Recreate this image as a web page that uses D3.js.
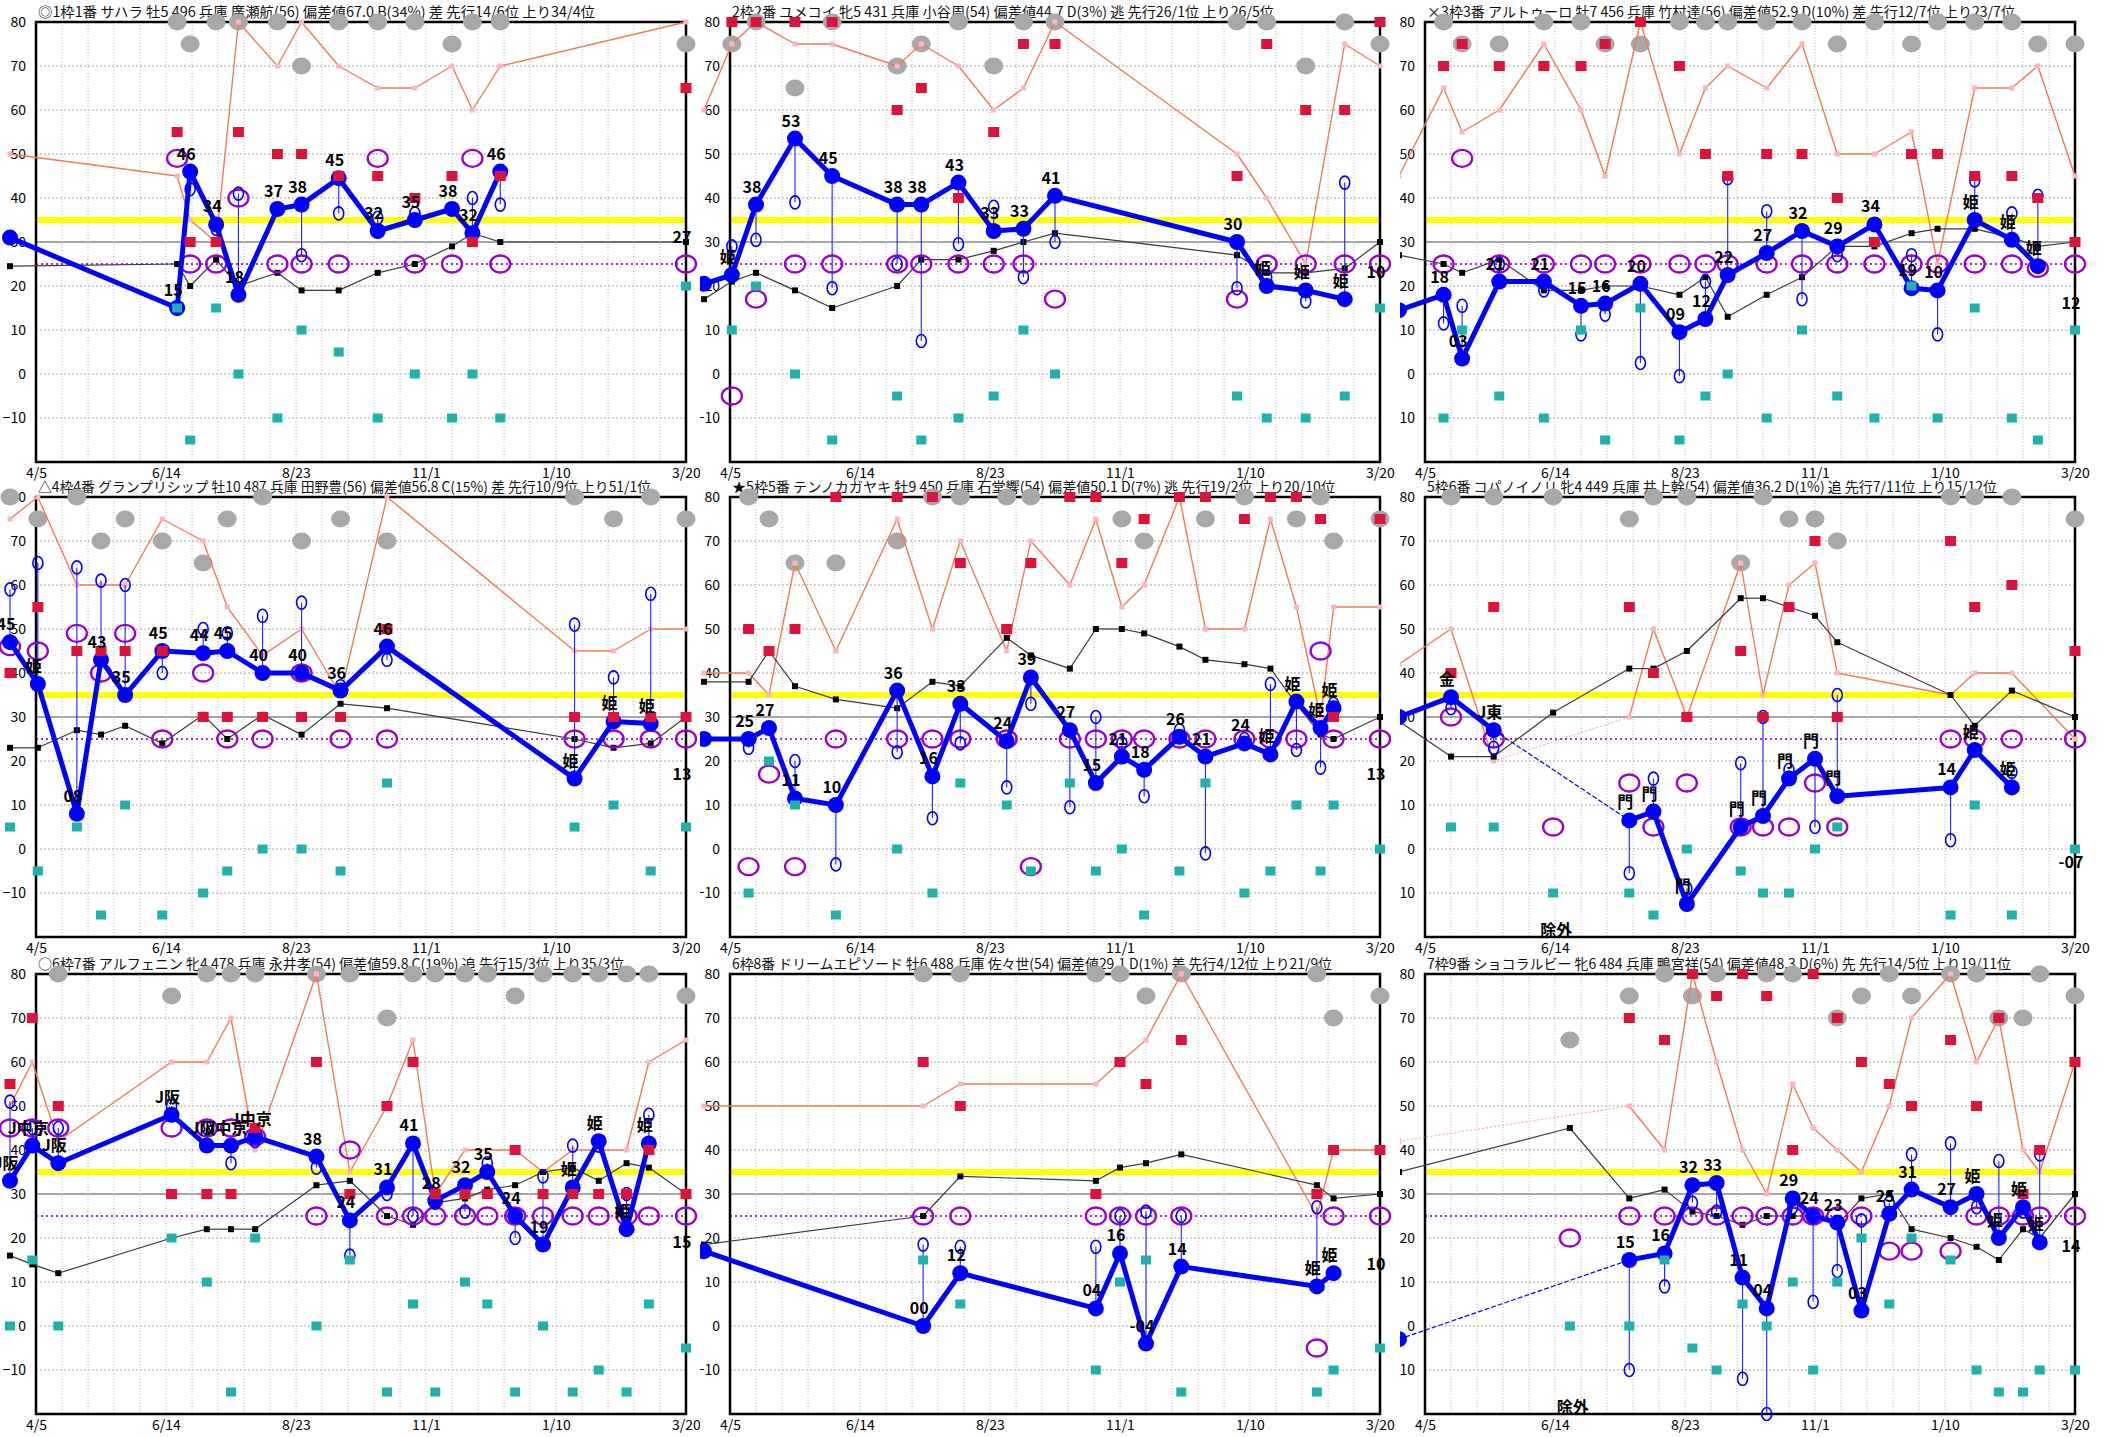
<!DOCTYPE html>
<html>
<head>
<meta charset="utf-8">
<script src="https://cdn.jsdelivr.net/npm/d3@7"></script>
<style>
  body { margin: 0; background: #fff; }
  svg { display: block; }
  text { font-family: "Noto Sans CJK JP", "Noto Sans", sans-serif; }
</style>
</head>
<body>
<svg id="chart" width="2109" height="1437"></svg>
<script>
// x = days counted from 4/5, y = index value
const dateTicks = [0, 70, 140, 210, 280, 350];
const dateLabels = ["4/5", "6/14", "8/23", "11/1", "1/10", "3/20"];
const yTicks = [80, 70, 60, 50, 40, 30, 20, 10, 0, -10];

const titles = [
  "◎1枠1番 サハラ 牡5 496 兵庫 廣瀬航(56) 偏差値67.0 B(34%) 差 先行14/6位 上り34/4位",
  "2枠2番 ユメコイ 牝5 431 兵庫 小谷周(54) 偏差値44.7 D(3%) 逃 先行26/1位 上り26/5位",
  "×3枠3番 アルトゥーロ 牡7 456 兵庫 竹村達(56) 偏差値52.9 D(10%) 差 先行12/7位 上り23/7位",
  "△4枠4番 グランプリシップ 牡10 487 兵庫 田野豊(56) 偏差値56.8 C(15%) 差 先行10/9位 上り51/1位",
  "★5枠5番 テンノカガヤキ 牡9 450 兵庫 石堂響(54) 偏差値50.1 D(7%) 逃 先行19/2位 上り20/10位",
  "5枠6番 コパノイノリ 牝4 449 兵庫 井上幹(54) 偏差値36.2 D(1%) 追 先行7/11位 上り15/12位",
  "○6枠7番 アルフェニン 牝4 478 兵庫 永井孝(54) 偏差値59.8 C(19%) 追 先行15/3位 上り35/3位",
  "6枠8番 ドリームエピソード 牡6 488 兵庫 佐々世(54) 偏差値29.1 D(1%) 差 先行4/12位 上り21/9位",
  "7枠9番 ショコラルビー 牝6 484 兵庫 鴨宮祥(54) 偏差値48.3 D(6%) 先 先行14/5位 上り19/11位"
];

const raceDays = [
  [-14, 76, 83, 97, 109, 130, 143, 163, 184, 204, 224, 235, 250, 350],
  [-14, 1, 14, 35, 55, 90, 103, 123, 142, 158, 175, 273, 289, 310, 331, 350],
  [-14, 10, 20, 40, 64, 84, 97, 116, 137, 151, 163, 184, 203, 222, 242, 262, 276, 296, 316, 330, 350],
  [-14, 1, 22, 35, 48, 68, 90, 103, 122, 143, 164, 189, 290, 311, 331, 350],
  [-14, 10, 21, 35, 57, 90, 109, 124, 149, 162, 183, 197, 211, 223, 242, 256, 277, 291, 305, 318, 325, 350],
  [-14, 14, 37, 69, 110, 123, 141, 170, 182, 196, 210, 222, 283, 296, 316, 350],
  [-14, -2, 12, 73, 92, 105, 118, 151, 169, 189, 203, 215, 231, 243, 258, 273, 289, 303, 318, 330, 350],
  [-14, 104, 124, 197, 210, 224, 243, 316, 325, 350],
  [-14, 78, 110, 129, 144, 157, 171, 184, 198, 209, 222, 235, 250, 262, 283, 297, 309, 322, 331, 350]
];

const grayVals = [
  [null, 80, 75, 80, 80, 80, 70, 80, 80, 80, 75, 80, 80, 75],
  [null, 75, 80, 65, 80, 70, 75, 80, 70, 80, 80, 80, 80, 70, 80, 75],
  [null, 80, 75, 75, 80, 80, 75, 75, 80, 80, 80, 80, 80, 75, 80, 75, 80, 80, 80, 75, 75],
  [80, 75, 80, 70, 75, 70, 65, 75, 80, 70, 75, 70, 80, 75, 80, 75],
  [null, 80, 75, 65, 65, 70, 80, 80, 80, 80, null, null, 75, 70, null, 75, 80, null, 75, 80, 70, 75],
  [null, 80, 80, 80, 75, 80, 80, 65, 80, 75, 75, 70, 80, 80, 80, 75],
  [null, null, 80, 75, 80, 80, 80, 80, 80, 70, 80, 80, 80, 80, 75, 80, 80, 80, 80, 80, 75],
  [null, 80, 80, 80, 80, 75, 80, 80, 70, 75],
  [null, 65, 75, 80, 75, 80, null, 80, 80, null, 70, 75, 80, 75, 80, 80, 70, 70, 80, 75]
];

const redVals = [
  [null, 55, 30, 30, 55, 50, 50, 45, 45, 40, 45, 30, 45, 65],
  [null, 80, 80, 80, 80, 60, 65, 40, 55, 75, 75, 45, 75, 60, 60, 80],
  [null, 70, 75, 70, 70, 70, 75, 80, 70, 50, 45, 50, 50, 40, 30, 50, 50, 45, 45, 40, 30],
  [40, 55, 45, 45, 45, 45, 30, 30, 30, 30, 30, 50, 30, 30, 30, 30],
  [null, 50, 45, 50, 80, 80, 80, 65, 50, 65, 80, 80, 65, 75, 80, 80, 75, 80, 80, 75, 30, 75],
  [null, 40, 55, null, 55, 40, 30, 45, 30, 55, 70, 30, 70, 55, 60, 45],
  [55, 70, 50, 30, 30, 30, 45, 60, 30, 50, 60, 30, 30, 30, 40, 30, 30, 30, 30, 40, 30],
  [null, 60, 50, 30, 60, 55, 65, 30, 40, 40],
  [null, null, 70, 65, 80, 75, 80, 75, 40, 80, 70, 60, 55, 50, 65, 50, 70, 30, 40, 60]
];

const salmonVals = [
  [50, 45, 35, 30, 80, 70, 80, 70, 65, 65, 70, 60, 70, 80],
  [60, 75, 80, 75, 75, 70, 75, 70, 60, 65, 80, 50, 40, 25, 75, 70],
  [45, 65, 55, 60, 75, 60, 45, 80, 50, 65, 70, 65, 75, 50, 50, 55, 25, 65, 65, 70, 45],
  [75, 80, 60, 60, 60, 75, 70, 55, 44, 50, 35, 80, 45, 45, 50, 50],
  [40, 40, 35, 65, 45, 75, 50, 70, 45, 70, 60, 75, 55, 60, 80, 50, 50, 75, 55, 30, 55, 55],
  [42, 50, 20, null, 30, 50, 30, 65, 35, 60, 65, 40, 35, 40, 40, 25],
  [50, 60, 42, 60, 60, 70, 40, 80, 35, 50, 65, 30, 40, 40, 40, 35, 40, 40, 40, 60, 65],
  [50, 50, 55, 55, 60, 65, 80, 25, 40, 40],
  [42, null, 50, 40, 80, 60, 40, 30, 55, 45, 40, 35, 50, 70, 80, 60, 70, 40, 35, 60]
];

const blackVals = [
  [24.5, 25, 20, 26, 20, 23, 19, 19, 23, 25, 29, 32, 30, 30],
  [17, 21, 23, 19, 15, 20, 26, 26, 28, 30, 32, 27, 23, 23, 24, 30],
  [27, 25, 23, 26, 19, 19, 20, 20, 18, 22, 13, 18, 22, 29, 29, 32, 33, 33, 31, 29, 30],
  [23, 23, 27, 26, 28, 24, 30.5, 25, 30.5, 26, 33, 32, 25, 23, 24, 30],
  [38, 38, 45, 37, 34, 32, 38, 37, 48, 44, 41, 50, 50, 49, 46, 43, 42, 41, 33, 26, 25, 30],
  [29, 21, 21, 31, 41, 41, 45, 57, 57, 55, 53, 47, 35, 28, 36, 30],
  [16, 14, 12, 20, 22, 22, 22, 32, 33, 25, 23, 28, 29, 31, 32, 35, 36, 33, 37, 36, 30],
  [18.5, 25, 34, 33, 36, 37, 39, 32, 29, 30],
  [35, 45, 29, 31, 26, 25, 23, 25, 25, 25, 23, 29, 30, 22, 20, 18, 15, 22, 20, 30]
];

// last entry of each row is the coming race: only its label is shown
const blueVals = [
  [31, 15, 46, 34, 18, 37.5, 38.5, 44.5, 32.5, 35, 37.5, 32, 46, 27],
  [20.5, 22.5, 38.5, 53.5, 45, 38.5, 38.5, 43.5, 32.5, 33, 40.5, 30, 20, 19, 17, 19],
  [14.5, 18, 3.5, 21, 21, 15.5, 16, 20.5, 9.5, 12.5, 22.5, 27.5, 32.5, 29, 34, 19.5, 19, 35, 30.5, 24.5, 12],
  [47, 37.5, 8, 43, 35, 45, 44.5, 45, 40, 40, 36, 46, 16, 29, 28.5, 13],
  [25, 25, 27.5, 11.5, 10, 36, 16.5, 33, 24.5, 39, 27, 15, 21, 18, 25.5, 21, 24, 21.5, 33.5, 27.5, 32, 13],
  [30, 34.5, 27, null, 6.5, 8.5, -12.5, 5, 7.5, 16, 20.5, 12, 14, 22.5, 14, -7],
  [33, 41, 37, 48, 41, 41, 43, 38.5, 24, 31.5, 41.5, 28.5, 32, 35, 25, 18.5, 31.5, 42, 22, 41.5, 15],
  [17, 0, 12, 4, 16.5, -4, 13.5, 9, 12, 10],
  [-3, null, 15, 16.5, 32, 32.5, 11, 4, 29, 25, 23.5, 3.5, 25.5, 31, 27, 30, 20, 27, 19, 14]
];

const blueLabels = [
  ["", "15", "46", "34", "18", "37", "38", "45", "32", "35", "38", "32", "46", "27"],
  ["", "姫", "38", "53", "45", "38", "38", "43", "33", "33", "41", "30", "姫", "姫", "姫", "10"],
  ["", "18", "03", "21", "21", "15", "16", "20", "09", "12", "22", "27", "32", "29", "34", "19", "10", "姫", "姫", "姫", "12"],
  ["45", "姫", "08", "43", "35", "45", "44", "45", "40", "40", "36", "46", "姫", "姫", "姫", "13"],
  ["", "25", "27", "11", "10", "36", "16", "33", "24", "39", "27", "15", "21", "18", "26", "21", "24", "姫", "姫", "姫", "姫", "13"],
  ["", "金", "J東", "", "門", "門", "門", "門", "門", "門", "門", "門", "14", "姫", "姫", "-07"],
  ["J阪", "J中京", "J阪", "J阪", "J阪", "J中京", "J中京", "38", "24", "31", "41", "28", "32", "35", "24", "19", "姫", "姫", "姫", "姫", "15"],
  ["", "00", "12", "04", "16", "-04", "14", "姫", "姫", "10"],
  ["", "", "15", "16", "32", "33", "11", "04", "29", "24", "23", "03", "25", "31", "27", "姫", "姫", "姫", "姫", "14"]
];

const hollowVals = [
  [null, null, 42, 33, 41, null, 27, 36.5, 35.5, 36.5, null, 40, 38.5, null],
  [null, 29, 30.5, 39, 19.5, 25, 7.5, 29.5, 38, 22, 30, 19.5, 22, 16.5, 43.5, null],
  [null, 11.5, 15.5, 25, 19, 9, 13.5, 2.5, -0.5, 21, 44.5, 37, 17, 27, null, 27, 9, 44, 36.5, 40.5, null],
  [59, 65, 64, 61, 60, 40, 50, 49, 53, 56, 37, 43, 51, 39, 58, null],
  [null, 23, null, 20, -3.5, 22, 7, 24, 14, 33, 9.5, 30, 24, 12, 27, -1, 25, 37.5, 22.5, 18.5, 33, null],
  [null, 32, 23, null, -5.5, 16, -9, 19.5, 30, 18, 5, 35, 2, null, 17.5, null],
  [51, 45, 45, 50, 45, 37, 42, 36, 16, 30, 25, 28, 26, 37, 20, 34, 41, 41, 30, 48, null],
  [null, 18.5, 18, 18, 25, 26, 25, 27, null, null],
  [null, null, -10, 9, 28, 26, -12, -20, 27, 5.5, 12.5, 24, 28, 39, 41.5, 27, 37.5, 26, 39, null]
];

const purpleVals = [
  [null, 49, 25, 25, 40, 25, 25, 25, 49, 25, 25, 49, 25, 25],
  [null, -5, 17, 25, 25, 25, 25, 25, 25, 25, 17, 17, 25, 25, 25, 25],
  [null, 25, 49, 25, 25, 25, 25, 25, 25, 25, 25, 25, 25, 25, 25, 25, 25, 25, 25, 24, 25],
  [46, 45, 49, 40, 49, 25, 40, 25, 25, 40, 25, 25, 25, 25, 25, 25],
  [null, -4, 17, -4, 25, 25, 25, 25, 25, -4, 25, 25, 25, 25, 25, 25, 25, 25, 25, 45, 25, 25],
  [null, 30, 25, 5, 15, 5, 15, 5, 5, 5, 15, 5, 25, 25, 25, 25],
  [45, 45, 45, 45, 45, 45, 43, 25, 40, 25, 25, 25, 25, 25, 25, 25, 25, 25, 25, 25, 25],
  [null, 25, 25, 25, 25, 25, 25, -5, 25, 25],
  [null, 20, 25, 25, 25, 25, 25, 25, 25, 25, 25, 25, 17, 17, 17, 25, 25, 25, 25, 25]
];

const tealVals = [
  [null, 15, -15, 15, 0, -10, 10, 5, -10, 0, -10, 0, -10, 20],
  [null, 10, 20, 0, -15, -5, -15, -10, -5, 10, 0, -5, -10, -10, -5, 15],
  [null, -10, 10, -5, -10, 10, -15, 15, -15, -5, 0, -10, 10, -5, -10, 20, -10, 15, -10, -15, 10],
  [5, -5, 5, -15, 10, -15, -10, -5, 0, 0, -5, 15, 5, 10, -5, 5],
  [null, -10, 20, 10, -15, 0, -10, 15, 10, -5, 15, -5, 0, -15, -5, 15, -10, -5, 10, -5, 10, 0],
  [null, 5, 5, -10, -10, -15, 0, -5, -10, -10, 0, 5, -15, 10, -15, 0],
  [0, 15, 0, 20, 10, -15, 20, 0, 15, -15, 5, -15, 10, 5, -15, 0, -15, -10, -15, 5, -5],
  [null, 15, 5, -10, 10, 15, -15, -15, -10, -5],
  [null, 0, 0, 15, -5, -10, 5, 0, 10, -10, 10, 20, 5, 20, 15, -10, -15, -15, -10, -10]
];

// layout
const W = 2109, H = 1437;
const colLeft = [36, 730, 1425];
const colClip = [0, 700, 1400];
const rowTop = [22, 497, 974];
const plotW = 650, plotH = 440;
const titleW = [557, 542, 588, 613, 603, 570, 586, 600, 584];

const svg = d3.select("#chart");
svg.append("rect").attr("width", W).attr("height", H).attr("fill", "#fff");

// pairs of defined points; a skipped race in between makes a dashed link
function links(vals, last) {
  const idx = [];
  for (let i = 0; i <= last; i++) if (vals[i] != null) idx.push(i);
  return d3.pairs(idx).map(([a, b]) => ({ a, b, gap: b - a > 1 }));
}

function drawPanel(p) {
  const col = p % 3, row = Math.floor(p / 3);
  const L = colLeft[col], T = rowTop[row];
  const days = raceDays[p];
  const n = days.length;

  const x = d3.scaleLinear().domain([0, 350]).range([L, L + plotW]);
  const y = d3.scaleLinear().domain([-20, 80]).range([T + plotH, T]);

  svg.append("clipPath").attr("id", "clip" + p)
    .append("rect")
    .attr("x", colClip[col]).attr("y", T - 40)
    .attr("width", col === 2 ? W - colClip[col] : 700)
    .attr("height", plotH + 76);

  const g = svg.append("g").attr("clip-path", `url(#clip${p})`);

  g.append("text")
    .attr("x", L + 2).attr("y", T - 5)
    .attr("textLength", titleW[p]).attr("lengthAdjust", "spacingAndGlyphs")
    .style("font-size", "14px").attr("fill", "#111")
    .text(titles[p]);

  // grid
  g.append("g").selectAll("line")
    .data(d3.range(14, 350, 14))
    .join("line")
    .attr("x1", d => x(d)).attr("x2", d => x(d))
    .attr("y1", T).attr("y2", T + plotH)
    .attr("stroke", "#b8b8b8").attr("stroke-width", 1)
    .attr("stroke-dasharray", "1,2");

  g.append("g").selectAll("line")
    .data(yTicks.slice(1))
    .join("line")
    .attr("x1", L).attr("x2", L + plotW)
    .attr("y1", d => y(d)).attr("y2", d => y(d))
    .attr("stroke", "#c4c4c4").attr("stroke-width", 1.5)
    .attr("stroke-dasharray", "2,2");

  // reference lines
  g.append("line").attr("x1", L).attr("x2", L + plotW)
    .attr("y1", y(30)).attr("y2", y(30))
    .attr("stroke", "#a6a6a6").attr("stroke-width", 2);
  g.append("line").attr("x1", L).attr("x2", L + plotW)
    .attr("y1", y(35)).attr("y2", y(35))
    .attr("stroke", "#ffff00").attr("stroke-width", 6);
  g.append("line").attr("x1", L).attr("x2", L + plotW)
    .attr("y1", y(25)).attr("y2", y(25))
    .attr("stroke", "#a030d8").attr("stroke-width", 2)
    .attr("stroke-dasharray", "2,3");

  g.append("rect")
    .attr("x", L).attr("y", T).attr("width", plotW).attr("height", plotH)
    .attr("fill", "none").attr("stroke", "#000").attr("stroke-width", 2.5);

  // axes
  const xAxis = g.append("g")
    .attr("transform", `translate(0,${T + plotH})`)
    .call(d3.axisBottom(x).tickValues(dateTicks)
      .tickFormat((d, i) => dateLabels[i]).tickSize(0).tickPadding(6));
  xAxis.select(".domain").remove();
  xAxis.selectAll("text").style("font-size", "14px")
    .style("font-family", "'Noto Sans CJK JP', sans-serif").attr("fill", "#000");

  const yAxis = g.append("g")
    .attr("transform", `translate(${L},0)`)
    .call(d3.axisLeft(y).tickValues(yTicks).tickSize(0).tickPadding(10));
  yAxis.select(".domain").remove();
  yAxis.selectAll("text").style("font-size", "14px")
    .style("font-family", "'Noto Sans CJK JP', sans-serif").attr("fill", "#000");

  const idx = d3.range(n);

  // gray circles
  g.append("g").selectAll("ellipse")
    .data(idx.filter(i => grayVals[p][i] != null))
    .join("ellipse")
    .attr("cx", i => x(days[i])).attr("cy", i => y(grayVals[p][i]))
    .attr("rx", 9.5).attr("ry", 8.5)
    .attr("fill", "#a8a8a8");

  // salmon line
  const sv = salmonVals[p];
  g.append("g").selectAll("line")
    .data(links(sv, n - 1))
    .join("line")
    .attr("x1", d => x(days[d.a])).attr("y1", d => y(sv[d.a]))
    .attr("x2", d => x(days[d.b])).attr("y2", d => y(sv[d.b]))
    .attr("stroke", d => d.gap ? "#f5a58a" : "#f27a55")
    .attr("stroke-width", d => d.gap ? 1 : 1.4)
    .attr("stroke-dasharray", d => d.gap ? "2,2" : null);
  g.append("g").selectAll("rect")
    .data(idx.filter(i => sv[i] != null))
    .join("rect")
    .attr("x", i => x(days[i]) - 2.5).attr("y", i => y(sv[i]) - 2.5)
    .attr("width", 5).attr("height", 5)
    .attr("fill", "#ffb3c1");

  // black line
  const bv = blackVals[p];
  g.append("g").selectAll("line")
    .data(links(bv, n - 1))
    .join("line")
    .attr("x1", d => x(days[d.a])).attr("y1", d => y(bv[d.a]))
    .attr("x2", d => x(days[d.b])).attr("y2", d => y(bv[d.b]))
    .attr("stroke", "#3a3a3a").attr("stroke-width", 1.2);
  g.append("g").selectAll("rect")
    .data(idx.filter(i => bv[i] != null))
    .join("rect")
    .attr("x", i => x(days[i]) - 3).attr("y", i => y(bv[i]) - 3)
    .attr("width", 6).attr("height", 6)
    .attr("fill", "#000");

  // purple rings
  g.append("g").selectAll("ellipse")
    .data(idx.filter(i => purpleVals[p][i] != null))
    .join("ellipse")
    .attr("cx", i => x(days[i])).attr("cy", i => y(purpleVals[p][i]))
    .attr("rx", 10).attr("ry", 8.5)
    .attr("fill", "none").attr("stroke", "#9a00d0").attr("stroke-width", 2.3);

  // hollow blue marks tied to the blue points
  const bl = blueVals[p], hv = hollowVals[p];
  const hIdx = idx.filter(i => hv[i] != null && bl[i] != null);
  g.append("g").selectAll("line")
    .data(hIdx)
    .join("line")
    .attr("x1", i => x(days[i])).attr("x2", i => x(days[i]))
    .attr("y1", i => y(bl[i])).attr("y2", i => y(hv[i]))
    .attr("stroke", "#2020ff").attr("stroke-width", 1.1);
  g.append("g").selectAll("ellipse")
    .data(hIdx)
    .join("ellipse")
    .attr("cx", i => x(days[i])).attr("cy", i => y(hv[i]))
    .attr("rx", 5).attr("ry", 6.5)
    .attr("fill", "none").attr("stroke", "#0000ff").attr("stroke-width", 1.6);

  // blue line and points (coming race left out)
  g.append("g").selectAll("line")
    .data(links(bl, n - 2))
    .join("line")
    .attr("x1", d => x(days[d.a])).attr("y1", d => y(bl[d.a]))
    .attr("x2", d => x(days[d.b])).attr("y2", d => y(bl[d.b]))
    .attr("stroke", "#0000ff")
    .attr("stroke-width", d => d.gap ? 1.2 : 5)
    .attr("stroke-linecap", "round")
    .attr("stroke-dasharray", d => d.gap ? "4,3" : null);
  g.append("g").selectAll("circle")
    .data(idx.filter(i => i < n - 1 && bl[i] != null))
    .join("circle")
    .attr("cx", i => x(days[i])).attr("cy", i => y(bl[i]))
    .attr("r", 8)
    .attr("fill", "#0000ff");

  // red and teal squares
  g.append("g").selectAll("rect")
    .data(idx.filter(i => redVals[p][i] != null))
    .join("rect")
    .attr("x", i => x(days[i]) - 5.5).attr("y", i => y(redVals[p][i]) - 5)
    .attr("width", 11).attr("height", 10)
    .attr("fill", "#dc143c");
  g.append("g").selectAll("rect")
    .data(idx.filter(i => tealVals[p][i] != null))
    .join("rect")
    .attr("x", i => x(days[i]) - 5).attr("y", i => y(tealVals[p][i]) - 4.5)
    .attr("width", 10).attr("height", 9)
    .attr("fill", "#20b2aa");

  // labels
  g.append("g").selectAll("text")
    .data(idx.filter(i => bl[i] != null && blueLabels[p][i] !== ""))
    .join("text")
    .attr("x", i => x(days[i]) - 4).attr("y", i => y(bl[i]) - 12)
    .attr("text-anchor", "middle")
    .style("font-size", "16px").style("font-weight", "bold")
    .attr("fill", "#000")
    .text(i => blueLabels[p][i]);

  // excluded races
  g.append("g").selectAll("text")
    .data(idx.filter(i => i > 0 && i < n - 1 && bl[i] == null))
    .join("text")
    .attr("x", i => x(days[i]) + 3).attr("y", T + plotH - 1)
    .attr("text-anchor", "middle")
    .style("font-size", "16px").style("font-weight", "bold")
    .attr("fill", "#000")
    .text("除外");
}

titles.forEach((t, p) => drawPanel(p));
</script>
</body>
</html>
